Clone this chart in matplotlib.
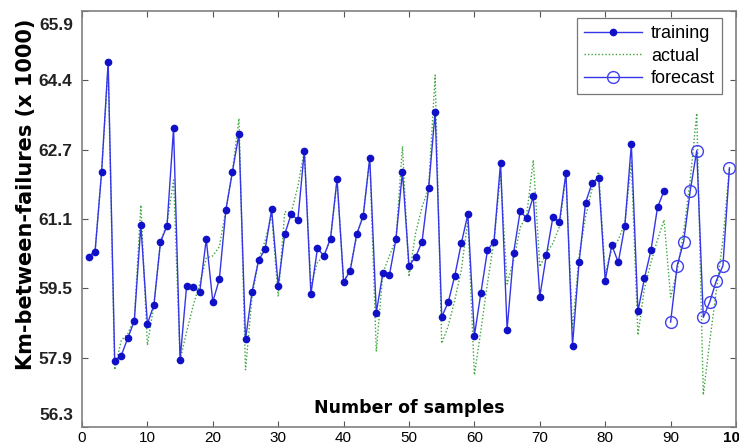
import numpy as np
import matplotlib
matplotlib.use("Agg")
import matplotlib.pyplot as plt
from matplotlib.transforms import ScaledTranslation

# ---------------- data ----------------
train_x = list(range(1, 90))
training = [60.23, 60.35, 62.19, 64.73, 57.82, 57.95, 58.35, 58.75, 60.96, 58.68,
            59.12, 60.57, 60.94, 63.19, 57.85, 59.56, 59.52, 59.42, 60.63, 59.19,
            59.71, 61.31, 62.19, 63.06, 58.32, 59.42, 60.15, 60.40, 61.32, 59.56,
            60.75, 61.22, 61.07, 62.68, 59.37, 60.42, 60.25, 60.65, 62.02, 59.65,
            59.90, 60.75, 61.17, 62.51, 58.94, 59.85, 59.80, 60.63, 62.19, 60.02,
            60.22, 60.58, 61.81, 63.58, 58.84, 59.18, 59.79, 60.54, 61.21, 58.41,
            59.40, 60.38, 60.58, 62.40, 58.55, 60.32, 61.28, 61.12, 61.62, 59.31,
            60.26, 61.14, 61.03, 62.17, 58.18, 60.10, 61.48, 61.93, 62.05, 59.68,
            60.50, 60.10, 60.94, 62.82, 58.97, 59.73, 60.38, 61.37, 61.75]

actual_x = list(range(1, 100))
actual = [60.23, 60.35, 62.19, 64.60, 57.62, 58.30, 58.45, 58.80, 61.42, 58.19,
          59.12, 60.57, 61.00, 62.00, 57.85, 58.50, 59.10, 59.60, 60.20, 60.25,
          60.46, 61.31, 62.20, 63.42, 57.62, 59.30, 60.15, 60.60, 61.20, 59.31,
          61.27, 61.25, 61.85, 62.68, 59.55, 60.10, 60.25, 60.65, 62.00, 59.65,
          59.95, 60.70, 61.20, 62.50, 58.04, 59.85, 60.25, 60.63, 62.78, 59.77,
          60.77, 61.38, 61.81, 64.42, 58.23, 58.63, 59.23, 59.92, 61.08, 57.50,
          58.54, 59.62, 60.60, 62.15, 59.60, 60.15, 60.90, 61.20, 62.46, 60.00,
          60.31, 60.54, 60.92, 62.10, 58.56, 60.23, 61.15, 61.80, 62.19, 59.85,
          60.40, 60.62, 61.00, 62.40, 58.42, 59.50, 60.10, 60.62, 61.08, 59.30,
          59.90, 60.80, 62.00, 63.54, 57.04, 58.30, 59.45, 60.62, 62.30]

forecast_x = list(range(90, 100))
forecast = [58.72, 60.02, 60.58, 61.75, 62.68, 58.83, 59.19, 59.68, 60.02, 62.28]

x_ticks = [0, 10, 20, 30, 40, 50, 60, 70, 80, 90, 100]
x_tick_labels = ["0", "10", "20", "30", "40", "50", "60", "70", "80", "90", "100"]
y_tick_labels = ["56.3", "57.9", "59.5", "61.1", "62.7", "64.4", "65.9"]

# ---------------- figure ----------------
plt.rcParams['font.family'] = ['Liberation Sans', 'DejaVu Sans']
fig = plt.figure(figsize=(7.39, 4.46), dpi=100)
ax = fig.add_axes([82 / 739, 19 / 446, (736 - 82) / 739, (427 - 11) / 446])

ax.plot(actual_x, actual, linestyle=(0, (1, 1.5)), color='#3aa63a', lw=1.0,
        label='actual', zorder=2)
ax.plot(train_x, training, '-', color='#3535e8', lw=1.0, marker='o',
        markersize=4.5, markerfacecolor='#1010c8', markeredgecolor='#1010c8',
        label='training', zorder=3)
ax.plot(forecast_x, forecast, '-', color='#3535e8', lw=1.0, marker='o',
        markersize=8.5, markerfacecolor='none', markeredgecolor='#4040f0',
        markeredgewidth=1.0, label='forecast', zorder=3)

ax.set_xlim(0, 100)
ax.set_ylim(56.3, 65.9)
ax.set_xticks(x_ticks)
ax.set_xticklabels(x_tick_labels, fontsize=11)
ax.get_xticklabels()[-1].set_fontweight('bold')

yt = np.linspace(56.3, 65.9, len(y_tick_labels))
ax.set_yticks(yt)
inner = [""] + y_tick_labels[1:-1] + [""]
ax.set_yticklabels(inner, fontsize=12.5, fontweight='bold', color='#222222')
ytrans = ax.get_yaxis_transform()
ax.text(-0.0135, yt[0], y_tick_labels[0], ha='right', va='center',
        fontsize=12.5, fontweight='bold', color='#222222',
        transform=ytrans + ScaledTranslation(0, 12 / 100, fig.dpi_scale_trans))
ax.text(-0.0135, yt[-1], y_tick_labels[-1], ha='right', va='center',
        fontsize=12.5, fontweight='bold', color='#222222',
        transform=ytrans + ScaledTranslation(0, -14 / 100, fig.dpi_scale_trans))

ax.tick_params(direction='in', top=True, right=True, length=4, color='#555555',
               width=0.8)
ax.tick_params(axis='y', pad=7)
ax.tick_params(axis='x', pad=3)
for s in ax.spines.values():
    s.set_color('#808080')
    s.set_linewidth(1.2)

ax.set_ylabel('Km-between-failures (x 1000)', fontsize=15, fontweight='bold',
              family=['DejaVu Sans'])
ax.yaxis.set_label_coords(-0.070, 0.56)
ax.text(0.5, 0.045, 'Number of samples', transform=ax.transAxes, ha='center',
        va='center', fontsize=12.5, fontweight='bold', family=['DejaVu Sans'])

h, l = ax.get_legend_handles_labels()
order = [l.index('training'), l.index('actual'), l.index('forecast')]
leg = ax.legend([h[i] for i in order], [l[i] for i in order], loc='upper right',
                bbox_to_anchor=((722 - 82) / 654, (427 - 18) / 416),
                borderaxespad=0.0, fontsize=13, frameon=True, fancybox=False,
                edgecolor='#555555', handlelength=3.2, labelspacing=0.3,
                handletextpad=0.5, borderpad=0.4)
leg.get_frame().set_linewidth(0.9)

fig.savefig('out.png', dpi=100)
